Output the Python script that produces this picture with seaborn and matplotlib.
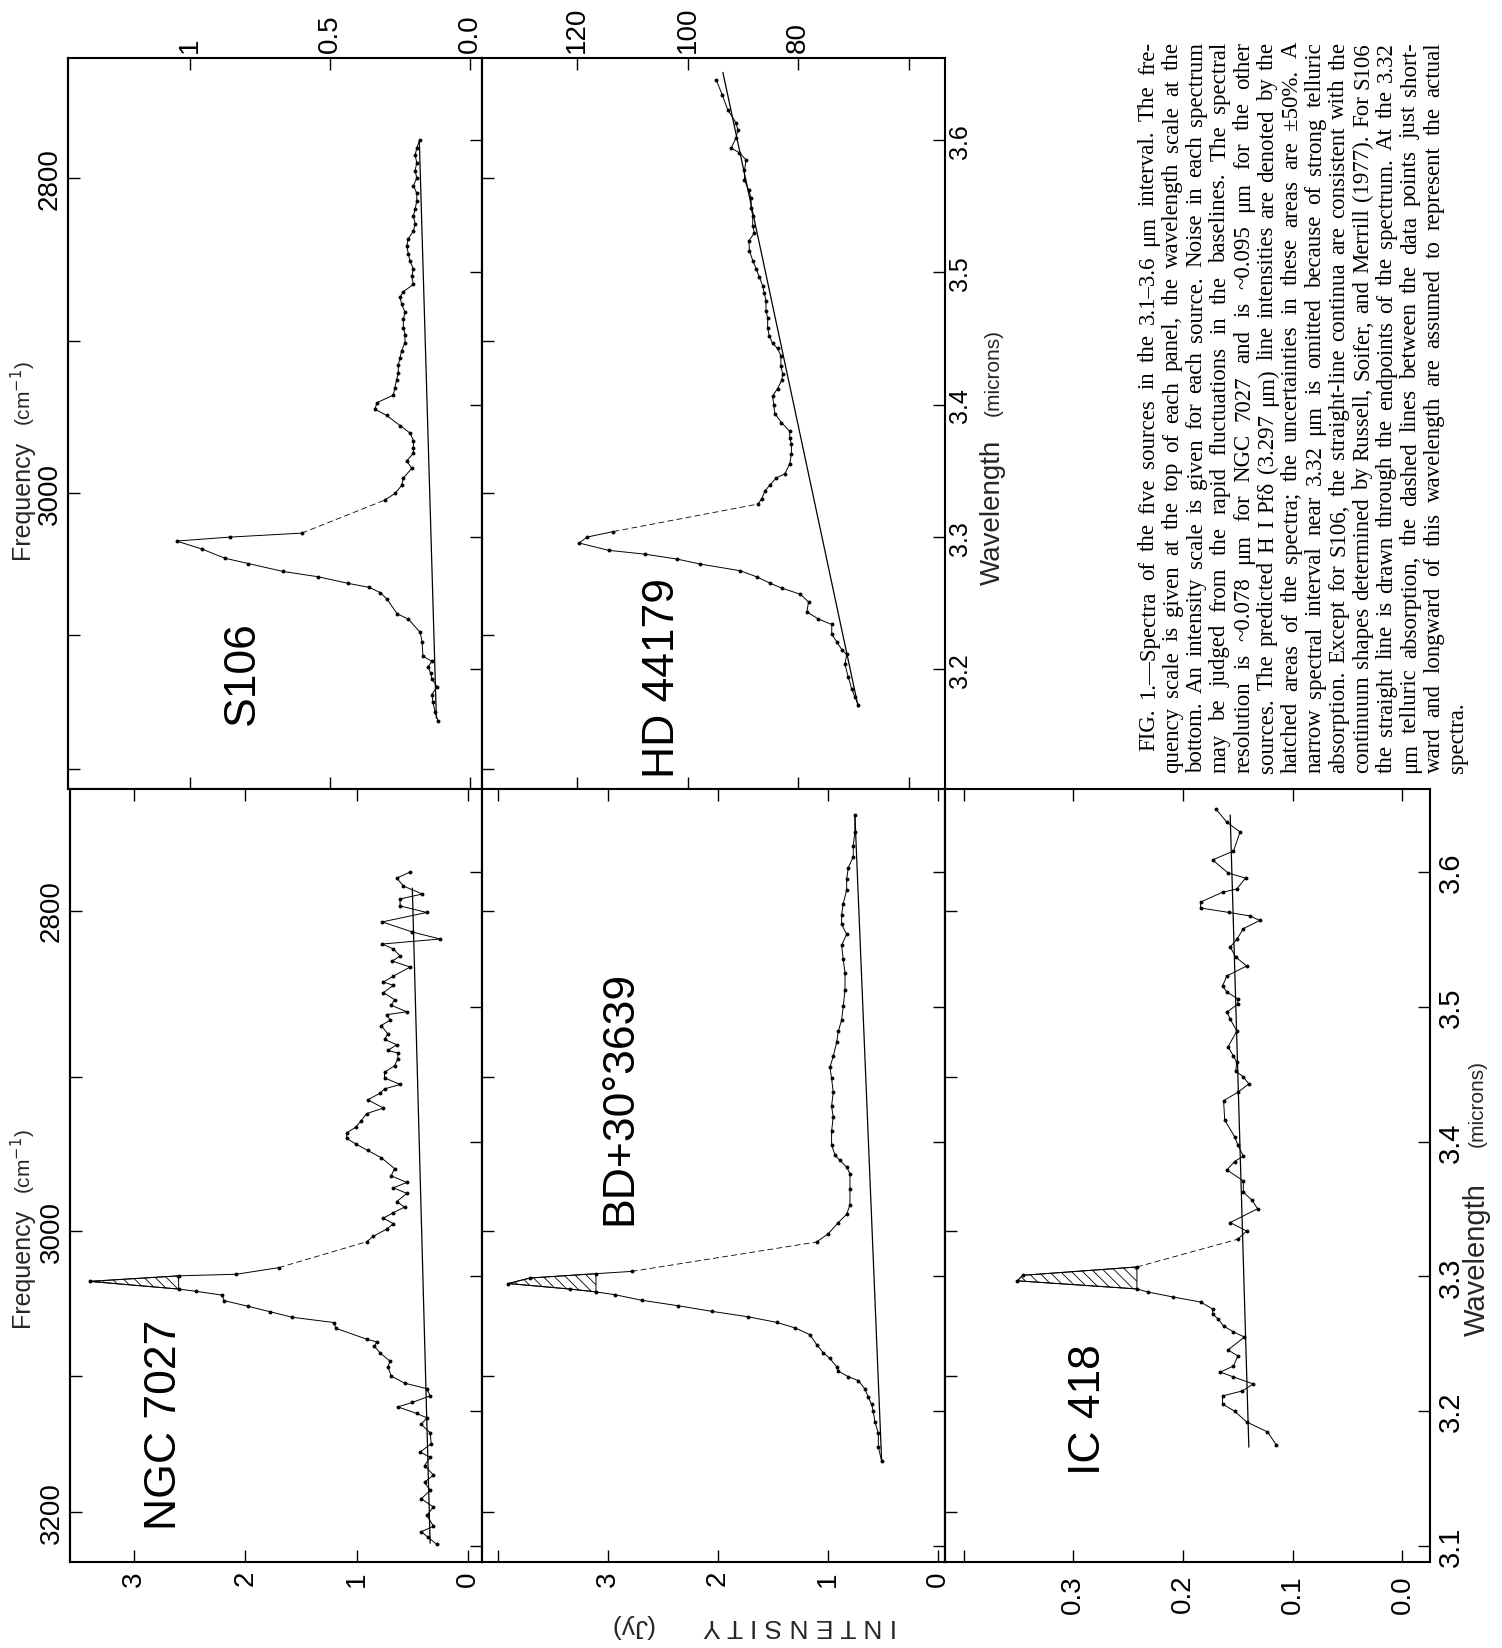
import numpy as np
import matplotlib
matplotlib.use("Agg")
import matplotlib.pyplot as plt
import seaborn as sns

# ------------------------------------------------------------
# Spectra: wavelength (microns) and intensity, split at the
# 3.32 micron telluric gap (a = shortward, b = longward)
# ------------------------------------------------------------
s106_lam_a = [3.161, 3.168, 3.175, 3.181, 3.187, 3.193, 3.197, 3.202, 3.206, 3.210,
              3.221, 3.228, 3.238, 3.242, 3.253, 3.258, 3.262, 3.265, 3.270, 3.274,
              3.280, 3.284, 3.291, 3.297, 3.300, 3.303]
s106_flux_a = [0.114, 0.125, 0.132, 0.136, 0.118, 0.136, 0.140, 0.150, 0.136, 0.168,
               0.171, 0.178, 0.220, 0.260, 0.296, 0.320, 0.360, 0.435, 0.542, 0.667,
               0.792, 0.875, 0.958, 1.048, 0.857, 0.601]
s106_lam_b = [3.328, 3.333, 3.339, 3.3445, 3.352, 3.3576, 3.3634, 3.367, 3.373, 3.3786,
              3.3843, 3.392, 3.3966, 3.4015, 3.4073, 3.413, 3.419, 3.424, 3.430, 3.4355,
              3.441, 3.447, 3.453, 3.4584, 3.4645, 3.470, 3.476, 3.4816, 3.4855, 3.491,
              3.497, 3.5027, 3.5084, 3.514, 3.520, 3.5256, 3.5313, 3.537, 3.5427, 3.548,
              3.554, 3.560, 3.5656, 3.5714, 3.577, 3.583, 3.5885, 3.594, 3.600]
s106_flux_b = [0.304, 0.268, 0.244, 0.238, 0.208, 0.226, 0.202, 0.202, 0.202, 0.214,
               0.250, 0.298, 0.339, 0.333, 0.274, 0.268, 0.262, 0.256, 0.256, 0.250,
               0.244, 0.232, 0.232, 0.238, 0.238, 0.232, 0.244, 0.250, 0.238, 0.202,
               0.208, 0.202, 0.214, 0.220, 0.226, 0.220, 0.202, 0.196, 0.202, 0.196,
               0.190, 0.190, 0.202, 0.190, 0.196, 0.190, 0.196, 0.190, 0.180]
s106_cont_lam = [3.163, 3.600]
s106_cont_flux = [0.120, 0.181]

hd_lam_a = [3.1734, 3.179, 3.1855, 3.194, 3.2037, 3.2113, 3.215, 3.221, 3.2265, 3.234,
            3.238, 3.2435, 3.251, 3.2568, 3.2614, 3.265, 3.270, 3.2746, 3.2796, 3.2834,
            3.2871, 3.290, 3.2955, 3.300, 3.3042]
hd_flux_a = [69.1, 69.7, 70.3, 70.9, 71.5, 71.2, 72.1, 73.0, 73.9, 73.9,
             76.3, 78.4, 78.1, 79.6, 82.9, 85.0, 87.5, 90.5, 97.7, 101.9,
             107.7, 114.3, 119.6, 118.2, 113.4]
hd_lam_b = [3.325, 3.3289, 3.3346, 3.3395, 3.3448, 3.3478, 3.3554, 3.363, 3.3706, 3.375,
            3.380, 3.3865, 3.3933, 3.400, 3.4066, 3.4123, 3.419, 3.4236, 3.4294, 3.437,
            3.4426, 3.4464, 3.452, 3.4578, 3.4654, 3.471, 3.4787, 3.4843, 3.490, 3.4965,
            3.503, 3.509, 3.5166, 3.524, 3.5298, 3.5355, 3.543, 3.5488, 3.5564, 3.562,
            3.5697, 3.5772, 3.585, 3.5905, 3.594, 3.602, 3.6076, 3.613, 3.6228, 3.634,
            3.6455]
hd_flux_b = [87.2, 86.6, 86.0, 85.1, 83.9, 82.4, 81.5, 81.2, 81.2, 81.5,
             81.5, 83.0, 84.2, 84.4, 84.6, 83.7, 82.9, 82.8, 83.1, 83.1,
             83.7, 84.6, 85.2, 85.5, 85.5, 85.8, 85.8, 86.1, 86.4, 87.0,
             87.6, 88.2, 88.8, 88.9, 87.9, 88.2, 88.2, 88.5, 88.5, 88.9,
             89.7, 89.7, 89.4, 90.6, 92.1, 91.2, 90.9, 91.2, 92.7, 93.7,
             94.8]
hd_cont_lam = [3.1715, 3.6512]
hd_cont_flux = [69.1, 93.6]

ngc_lam_a = [3.1012, 3.1065, 3.1106, 3.1146, 3.1228, 3.1289, 3.1350, 3.1412, 3.1473, 3.1526,
             3.1596, 3.1657, 3.1697, 3.1759, 3.1840, 3.1902, 3.1951, 3.1983, 3.2032, 3.2065,
             3.2114, 3.2167, 3.2208, 3.2261, 3.2330, 3.2371, 3.2432, 3.2481, 3.2514, 3.2534,
             3.2616, 3.2657, 3.2697, 3.2738, 3.2779, 3.2820, 3.2861, 3.2889, 3.2906, 3.2963,
             3.3004, 3.3016, 3.3065]
ngc_flux_a = [0.28, 0.36, 0.42, 0.31, 0.37, 0.31, 0.42, 0.34, 0.39, 0.31,
              0.39, 0.34, 0.43, 0.33, 0.34, 0.42, 0.37, 0.46, 0.63, 0.50,
              0.34, 0.37, 0.57, 0.69, 0.72, 0.70, 0.79, 0.84, 0.82, 0.91,
              1.19, 1.20, 1.58, 1.78, 1.98, 2.19, 2.21, 2.44, 2.60, 3.40,
              2.60, 2.08, 1.70]
ngc_lam_b = [3.3257, 3.3298, 3.3351, 3.3391, 3.3432, 3.3473, 3.3514, 3.3555, 3.3616, 3.3657,
             3.3697, 3.3746, 3.3800, 3.3881, 3.3934, 3.3983, 3.4024, 3.4065, 3.4106, 3.4155,
             3.4208, 3.4249, 3.4310, 3.4359, 3.4391, 3.4424, 3.4473, 3.4514, 3.4563, 3.4616,
             3.4657, 3.4677, 3.4718, 3.4759, 3.4799, 3.4861, 3.4901, 3.4942, 3.4963, 3.5012,
             3.5053, 3.5106, 3.5159, 3.5184, 3.5228, 3.5295, 3.5340, 3.5377, 3.5429, 3.5466,
             3.5503, 3.5555, 3.5630, 3.5700, 3.5748, 3.5800, 3.5837, 3.5896, 3.5955, 3.6000]
ngc_flux_b = [0.91, 0.85, 0.73, 0.67, 0.76, 0.67, 0.57, 0.64, 0.55, 0.67,
              0.55, 0.69, 0.66, 0.78, 0.90, 1.01, 1.09, 1.09, 1.01, 0.96,
              0.91, 0.76, 0.90, 0.79, 0.75, 0.61, 0.75, 0.75, 0.66, 0.63,
              0.63, 0.72, 0.64, 0.75, 0.72, 0.78, 0.70, 0.73, 0.55, 0.69,
              0.66, 0.76, 0.67, 0.76, 0.67, 0.52, 0.68, 0.61, 0.67, 0.77,
              0.25, 0.50, 0.77, 0.37, 0.61, 0.61, 0.41, 0.58, 0.64, 0.52]
ngc_cont_lam = [3.102, 3.588]
ngc_cont_flux = [0.34, 0.50]

bd_lam_a = [3.163, 3.1733, 3.1836, 3.1918, 3.200, 3.205, 3.2103, 3.2165, 3.2227, 3.2256,
            3.2297, 3.233, 3.2391, 3.2433, 3.2494, 3.2568, 3.2618, 3.2659, 3.270, 3.2741,
            3.2782, 3.2823, 3.2864, 3.2885, 3.2906, 3.2947, 3.2988, 3.302, 3.3037]
bd_flux_a = [0.512, 0.542, 0.542, 0.573, 0.588, 0.603, 0.633, 0.664, 0.724, 0.815,
             0.906, 0.921, 0.982, 1.042, 1.103, 1.164, 1.300, 1.467, 1.724, 2.058,
             2.360, 2.694, 2.936, 3.109, 3.345, 3.906, 3.709, 3.109, 2.785]
bd_lam_b = [3.3255, 3.3317, 3.3399, 3.3461, 3.3531, 3.3646, 3.3761, 3.3811, 3.386, 3.3901,
            3.3975, 3.4078, 3.4181, 3.4263, 3.4366, 3.4469, 3.4551, 3.4633, 3.4736, 3.4818,
            3.4901, 3.5003, 3.5127, 3.525, 3.5353, 3.5456, 3.5538, 3.5612, 3.5682, 3.5764,
            3.5867, 3.5949, 3.6032, 3.6114, 3.6196, 3.6299, 3.6423]
bd_flux_b = [1.103, 0.997, 0.906, 0.830, 0.800, 0.800, 0.800, 0.830, 0.891, 0.936,
             0.967, 0.967, 0.952, 0.967, 0.952, 0.967, 0.982, 0.952, 0.921, 0.906,
             0.876, 0.861, 0.845, 0.845, 0.861, 0.876, 0.830, 0.876, 0.876, 0.861,
             0.830, 0.830, 0.815, 0.770, 0.770, 0.755, 0.755]
bd_cont_lam = [3.163, 3.6423]
bd_cont_flux = [0.512, 0.755]

ic_lam_a = [3.175, 3.1846, 3.192, 3.200, 3.2053, 3.2113, 3.215, 3.2202, 3.2254, 3.229,
            3.2335, 3.241, 3.2454, 3.255, 3.2588, 3.2632, 3.2684, 3.2721, 3.2758, 3.281,
            3.2847, 3.2884, 3.2907, 3.2967, 3.3008, 3.307]
ic_flux_a = [0.115, 0.123, 0.142, 0.153, 0.164, 0.164, 0.146, 0.136, 0.154, 0.166,
             0.154, 0.150, 0.159, 0.144, 0.154, 0.163, 0.168, 0.173, 0.173, 0.184,
             0.209, 0.232, 0.242, 0.351, 0.346, 0.242]
ic_lam_b = [3.3276, 3.3337, 3.3399, 3.3502, 3.3564, 3.3625, 3.3708, 3.379, 3.3852, 3.3893,
            3.3975, 3.4037, 3.416, 3.4304, 3.4366, 3.4428, 3.448, 3.4524, 3.459, 3.4635,
            3.4702, 3.482, 3.491, 3.4961, 3.502, 3.5058, 3.511, 3.5154, 3.5229, 3.5303,
            3.537, 3.5444, 3.550, 3.558, 3.5641, 3.5674, 3.570, 3.5733, 3.5777, 3.585,
            3.5874, 3.5955, 3.5993, 3.609, 3.6156, 3.6297, 3.637, 3.6467]
ic_flux_b = [0.150, 0.142, 0.157, 0.132, 0.137, 0.145, 0.145, 0.160, 0.153, 0.145,
             0.150, 0.153, 0.162, 0.163, 0.150, 0.140, 0.145, 0.152, 0.151, 0.154,
             0.159, 0.151, 0.157, 0.160, 0.150, 0.150, 0.160, 0.164, 0.160, 0.142,
             0.152, 0.157, 0.151, 0.145, 0.130, 0.139, 0.158, 0.184, 0.184, 0.164,
             0.151, 0.143, 0.159, 0.173, 0.154, 0.148, 0.160, 0.170]
ic_cont_lam = [3.1733, 3.6423]
ic_cont_flux = [0.140, 0.157]

# hatched Pf-delta areas: (shortward edge, longward edge, base intensity)
ngc_hatch = (3.2906, 3.3004, 2.60)
bd_hatch = (3.2885, 3.3020, 3.109)
ic_hatch = (3.2907, 3.3070, 0.242)

# axis scales
freq_ticks = [2800, 2900, 3000, 3100, 3200]
wl_ticks_top = [3.2, 3.3, 3.4, 3.5, 3.6]
wl_ticks_bottom = [3.1, 3.2, 3.3, 3.4, 3.5, 3.6]
s106_ticks, s106_ticklabels = [0.0, 0.5, 1.0], ["0.0", "0.5", "1"]
hd_ticks, hd_ticklabels = [60, 80, 100, 120], ["", "80", "100", "120"]
ngc_ticks, ngc_ticklabels = [0, 1, 2, 3], ["0", "1", "2", "3"]
bd_ticks, bd_ticklabels = [0, 1, 2, 3, 4], ["0", "1", "2", "3", ""]
ic_ticks, ic_ticklabels = [0.0, 0.1, 0.2, 0.3, 0.4], ["0.0", "0.1", "0.2", "0.3", ""]

caption_lines = [
    "FIG. 1.—Spectra of the five sources in the 3.1–3.6 μm interval. The fre-",
    "quency scale is given at the top of each panel, the wavelength scale at the",
    "bottom. An intensity scale is given for each source. Noise in each spectrum",
    "may be judged from the rapid fluctuations in the baselines. The spectral",
    "resolution is ~0.078 μm for NGC 7027 and is ~0.095 μm for the other",
    "sources. The predicted H I Pfδ (3.297 μm) line intensities are denoted by the",
    "hatched areas of the spectra; the uncertainties in these areas are ±50%. A",
    "narrow spectral interval near 3.32 μm is omitted because of strong telluric",
    "absorption. Except for S106, the straight-line continua are consistent with the",
    "continuum shapes determined by Russell, Soifer, and Merrill (1977). For S106",
    "the straight line is drawn through the endpoints of the spectrum. At the 3.32",
    "μm telluric absorption, the dashed lines between the data points just short-",
    "ward and longward of this wavelength are assumed to represent the actual",
    "spectra.",
]

# ------------------------------------------------------------
# Figure (the page is turned: wavelength runs up, intensity left)
# ------------------------------------------------------------
W, H = 1502, 1649
sns.set_theme(style="white")
plt.rcParams["font.family"] = ["Liberation Sans", "DejaVu Sans"]
plt.rcParams["hatch.linewidth"] = 0.6
plt.rcParams["hatch.color"] = "black"

fig = plt.figure(figsize=(W / 100, H / 100), dpi=100, facecolor="white")


def rect(x0, x1, y0, y1):
    return [x0 / W, 1 - y1 / H, (x1 - x0) / W, (y1 - y0) / H]


def put(x, y, s, **kw):
    return fig.text(x / W, 1 - y / H, s, **kw)


def lam_to_nu(v):
    v = np.asarray(v, dtype=float)
    with np.errstate(divide="ignore"):
        return 1e4 / v


panels = [
    dict(name="S106", box=(68, 482, 59, 790), xlim=(1.436, -0.043), ylim=(3.1096, 3.6621),
         data=(s106_lam_a, s106_flux_a, s106_lam_b, s106_flux_b),
         cont=(s106_cont_lam, s106_cont_flux), hatch=None,
         xt=(s106_ticks, s106_ticklabels), top=True, xpad=4.3,
         wl=(wl_ticks_top, None), wl_size=18, wl_pad=2,
         freq_labels=["2800", "", "3000", "", ""], label_xy=(242, 673)),
    dict(name="HD 44179", box=(482, 945, 59, 790), xlim=(137.2, 53.4), ylim=(3.1096, 3.6621),
         data=(hd_lam_a, hd_flux_a, hd_lam_b, hd_flux_b),
         cont=(hd_cont_lam, hd_cont_flux), hatch=None,
         xt=(hd_ticks, hd_ticklabels), top=True, xpad=4.3,
         wl=(wl_ticks_top, ["3.2", "3.3", "3.4", "3.5", "3.6"]), wl_size=18, wl_pad=2,
         freq_labels=None, label_xy=(663, 678)),
    dict(name="NGC 7027", box=(70, 482, 790, 1563), xlim=(3.576, -0.126), ylim=(3.0881, 3.6616),
         data=(ngc_lam_a, ngc_flux_a, ngc_lam_b, ngc_flux_b),
         cont=(ngc_cont_lam, ngc_cont_flux), hatch=ngc_hatch,
         xt=(ngc_ticks, ngc_ticklabels), top=False, xpad=5.8,
         wl=(wl_ticks_bottom, None), wl_size=21, wl_pad=5,
         freq_labels=["2800", "", "3000", "", "3200"], label_xy=(164, 1425)),
    dict(name="BD+30°3639", box=(482, 945, 790, 1563), xlim=(4.145, -0.064), ylim=(3.0881, 3.6616),
         data=(bd_lam_a, bd_flux_a, bd_lam_b, bd_flux_b),
         cont=(bd_cont_lam, bd_cont_flux), hatch=bd_hatch,
         xt=(bd_ticks, bd_ticklabels), top=False, xpad=5.8,
         wl=(wl_ticks_bottom, None), wl_size=21, wl_pad=5,
         freq_labels=None, label_xy=(620, 1098)),
    dict(name="IC 418", box=(945, 1430, 790, 1563), xlim=(0.4169, -0.0251), ylim=(3.0881, 3.6616),
         data=(ic_lam_a, ic_flux_a, ic_lam_b, ic_flux_b),
         cont=(ic_cont_lam, ic_cont_flux), hatch=ic_hatch,
         xt=(ic_ticks, ic_ticklabels), top=False, xpad=8.6,
         wl=(wl_ticks_bottom, ["3.1", "3.2", "3.3", "3.4", "3.5", "3.6"]), wl_size=21, wl_pad=5,
         freq_labels=None, label_xy=(1088, 1410)),
]

TICK_LEN = 8.6

for p in panels:
    ax = fig.add_axes(rect(*p["box"]))
    ax.set_facecolor("white")
    la, fa, lb, fb = p["data"]

    # hatched predicted Pf-delta line
    if p["hatch"] is not None:
        lo, hi, base = p["hatch"]
        lam = np.array(la)
        mask = (lam >= lo - 1e-6) & (lam <= hi + 1e-6)
        ax.fill_betweenx(lam, np.array(fa), base, where=mask, facecolor="white",
                         edgecolor="black", hatch="\\\\\\", linewidth=0.7, zorder=1)

    dots = dict(marker="o", markersize=2.8, markeredgewidth=0, markerfacecolor="black")
    sns.lineplot(x=fa, y=la, sort=False, estimator=None, color="black", linewidth=0.7,
                 ax=ax, **dots)
    sns.lineplot(x=fb, y=lb, sort=False, estimator=None, color="black", linewidth=0.7,
                 ax=ax, **dots)
    # dashed bridge across the telluric gap
    sns.lineplot(x=[fa[-1], fb[0]], y=[la[-1], lb[0]], sort=False, estimator=None,
                 color="black", linewidth=0.6, linestyle=(0, (7, 4)), ax=ax)
    # straight-line continuum
    cl, cf = p["cont"]
    sns.lineplot(x=cf, y=cl, sort=False, estimator=None, color="black", linewidth=0.9, ax=ax)

    ax.set_xlim(*p["xlim"])
    ax.set_ylim(*p["ylim"])
    ax.set_xlabel("")
    ax.set_ylabel("")

    # intensity scale
    xt, xl = p["xt"]
    ax.set_xticks(xt, xl, rotation=90, fontsize=20, color="black")
    ax.tick_params(axis="x", direction="in", length=TICK_LEN, width=1, color="black",
                   top=True, bottom=True, labeltop=p["top"], labelbottom=not p["top"],
                   pad=p["xpad"])

    # wavelength scale (right side of each panel)
    wt, wlab = p["wl"]
    ax.set_yticks(wt, wlab if wlab else [""] * len(wt), rotation=90, va="center",
                  fontsize=p["wl_size"], color="black")
    ax.tick_params(axis="y", direction="in", length=TICK_LEN, width=1, color="black",
                   left=False, right=True, labelleft=False, labelright=bool(wlab),
                   pad=p["wl_pad"])

    # frequency scale (left side of each panel)
    sec = ax.secondary_yaxis("left", functions=(lam_to_nu, lam_to_nu))
    fl = p["freq_labels"] if p["freq_labels"] else [""] * len(freq_ticks)
    sec.set_yticks(freq_ticks, fl, rotation=90, va="center", fontsize=20, color="black")
    sec.tick_params(direction="in", length=TICK_LEN, width=1, color="black", pad=3.6)
    for sp in sec.spines.values():
        sp.set_color("black")
        sp.set_linewidth(1.5)

    for sp in ax.spines.values():
        sp.set_visible(True)
        sp.set_color("black")
        sp.set_linewidth(1.5)

    put(*p["label_xy"], p["name"], rotation=90, ha="center", va="center",
        fontsize=32, color="black")

# axis titles
for fx, fy, cy in [(22, 1268, 1162), (22, 500, 394)]:
    put(fx, fy, "Frequency", rotation=90, ha="center", va="center", fontsize=18)
    put(fx + 1, cy, "(cm$^{-1}$)", rotation=90, ha="center", va="center", fontsize=15)
for wx, wy, my, ws in [(1477, 1260, 1104, 21), (993, 512, 373, 20)]:
    put(wx, wy, "Wavelength", rotation=90, ha="center", va="center", fontsize=ws)
    put(wx, my, "(microns)", rotation=90, ha="center", va="center", fontsize=15)
put(800, 1626, "I N T E N S I T Y", rotation=180, ha="center", va="center", fontsize=19)
put(631, 1626, "(Jy)", rotation=180, ha="center", va="center", fontsize=19)

# ------------------------------------------------------------
# Caption: justified lines, rotated like the rest of the page
# ------------------------------------------------------------
cap_family = "Liberation Serif"
renderer = fig.canvas.get_renderer()


def text_width(s, size):
    t = fig.text(0, 0, s, family=cap_family, fontsize=size)
    w = t.get_window_extent(renderer).width
    t.remove()
    return w


cap_bottom, cap_top = 773, 42
natural = max(text_width(line, 10) for line in caption_lines[1:-1])
cap_size = 10 * (cap_bottom - cap_top) * 0.985 / natural
space_w = text_width("a a", cap_size) - text_width("aa", cap_size)

for k, line in enumerate(caption_lines):
    x_base = 1148 + 23.8 * k + 6
    start = cap_bottom - (22 if k == 0 else 0)
    words = line.split(" ")
    widths = [text_width(w, cap_size) for w in words]
    if k == len(caption_lines) - 1 or len(words) == 1:
        gap = space_w
    else:
        gap = (start - cap_top - sum(widths)) / (len(words) - 1)
    pos = start
    for w, wd in zip(words, widths):
        put(x_base, pos, w, rotation=90, rotation_mode="anchor", ha="left",
            va="baseline", family=cap_family, fontsize=cap_size, color="black")
        pos -= wd + gap

fig.savefig("out.png", dpi=100, facecolor="white")
